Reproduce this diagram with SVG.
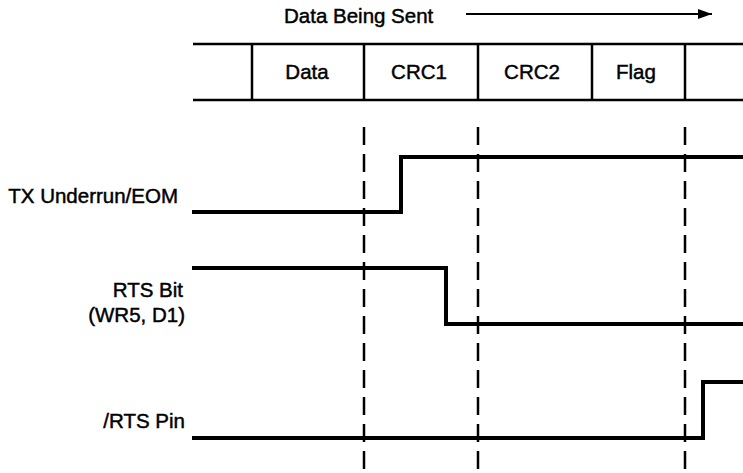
<svg xmlns="http://www.w3.org/2000/svg" width="743" height="473" viewBox="0 0 743 473">
<style>
text{font-family:"Liberation Sans",Arial,sans-serif;font-size:20.5px;fill:#000;stroke:#000;stroke-width:0.45}
.box{stroke:#000;stroke-width:2.5;fill:none}
.sig{stroke:#000;stroke-width:4;fill:none}
.dash{stroke:#000;stroke-width:2.5;stroke-dasharray:18 9;fill:none}
.mid{text-anchor:middle}
.end{text-anchor:end}
</style>
<defs>
<marker id="ah" viewBox="0 0 14 10" refX="14" refY="5" markerWidth="14" markerHeight="10" markerUnits="userSpaceOnUse" orient="auto">
<path d="M0,0 L14,5 L0,10 Z" fill="#000"/>
</marker>
</defs>
<rect width="743" height="473" fill="#fff"/>
<g id="header">
<text x="284" y="23">Data Being Sent</text>
<line x1="466" y1="14" x2="712" y2="14" stroke="#000" stroke-width="2" marker-end="url(#ah)"/>
</g>
<g id="frame">
<line class="box" x1="193" y1="44" x2="743" y2="44"/>
<line class="box" x1="193" y1="100" x2="743" y2="100"/>
<line class="box" x1="252" y1="44" x2="252" y2="100"/>
<line class="box" x1="364" y1="44" x2="364" y2="100"/>
<line class="box" x1="478" y1="44" x2="478" y2="100"/>
<line class="box" x1="592" y1="44" x2="592" y2="100"/>
<line class="box" x1="685" y1="44" x2="685" y2="100"/>
</g>
<g id="cell-data"><text class="mid" x="307" y="79">Data</text></g>
<g id="cell-crc1"><text class="mid" x="419" y="79">CRC1</text></g>
<g id="cell-crc2"><text class="mid" x="532" y="79">CRC2</text></g>
<g id="cell-flag"><text class="mid" x="636" y="79">Flag</text></g>
<g id="markers">
<line class="dash" x1="364" y1="127" x2="364" y2="473"/>
<line class="dash" x1="478" y1="127" x2="478" y2="473"/>
<line class="dash" x1="685" y1="127" x2="685" y2="473"/>
</g>
<g id="sig-tx">
<text class="end" x="178" y="203">TX Underrun/EOM</text>
<polyline class="sig" points="192,212 401,212 401,157 743,157"/>
</g>
<g id="sig-rtsbit">
<text class="end" x="183" y="297">RTS Bit</text>
<text class="end" x="185" y="322">(WR5, D1)</text>
<polyline class="sig" points="192,268 446,268 446,324 743,324"/>
</g>
<g id="sig-rtspin">
<text class="end" x="185" y="428">/RTS Pin</text>
<polyline class="sig" points="192,438 703,438 703,382 743,382"/>
</g>
</svg>
